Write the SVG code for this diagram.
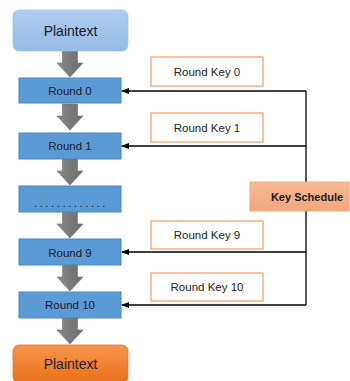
<svg xmlns="http://www.w3.org/2000/svg" width="350" height="381" viewBox="0 0 350 381">
  <defs>
    <linearGradient id="gBlueLight" x1="0" y1="0" x2="0" y2="1">
      <stop offset="0" stop-color="#b0cdee"/>
      <stop offset="1" stop-color="#95bae6"/>
    </linearGradient>
    <linearGradient id="gOrange" x1="0" y1="0" x2="0" y2="1">
      <stop offset="0" stop-color="#f7964a"/>
      <stop offset="1" stop-color="#e9701c"/>
    </linearGradient>
    <linearGradient id="gSalmon" x1="0" y1="0" x2="0" y2="1">
      <stop offset="0" stop-color="#f6b894"/>
      <stop offset="1" stop-color="#f3a77c"/>
    </linearGradient>
    <linearGradient id="gGray" x1="0" y1="0" x2="1" y2="0">
      <stop offset="0" stop-color="#8a8a8a"/>
      <stop offset="0.5" stop-color="#7a7a7a"/>
      <stop offset="1" stop-color="#6c6c6c"/>
    </linearGradient>
    <marker id="arrowHead" markerWidth="8" markerHeight="6" refX="7" refY="3" orient="auto" markerUnits="userSpaceOnUse">
      <path d="M0,0 L8,3 L0,6 Z" fill="#000"/>
    </marker>
    <!-- thick gray down-arrow between stages -->
    <path id="downArrow" d="M-7.5,0 H7.5 V12 H13 L0,26 L-13,12 H-7.5 Z" fill="url(#gGray)" stroke="#707070" stroke-width="0.6"/>
  </defs>
  <style>
    .round { fill: #5b9bd5; stroke: #4b86bd; stroke-width: 1; }
    .rtext { font-family: "Liberation Sans", Arial, sans-serif; font-size: 11.5px; fill: #1a1a2a; text-anchor: middle; }
    .key { fill: #ffffff; stroke: #f4a46c; stroke-width: 1.3; }
    .ktext { font-family: "Liberation Sans", Arial, sans-serif; font-size: 11.5px; fill: #222; text-anchor: middle; }
    .ptext { font-family: "Liberation Sans", Arial, sans-serif; font-size: 14px; fill: #1a1a1a; text-anchor: middle; }
    .link { fill: none; stroke: #000; stroke-width: 1.3; }
  </style>

  <!-- flow arrows -->
  <g id="flow-arrows">
    <use href="#downArrow" x="70" y="51"/>
    <use href="#downArrow" x="70" y="104"/>
    <use href="#downArrow" x="70" y="159"/>
    <use href="#downArrow" x="70" y="212"/>
    <use href="#downArrow" x="70" y="265"/>
    <use href="#downArrow" x="70" y="318"/>
  </g>

  <!-- key schedule connectors -->
  <g id="connectors">
    <path class="link" d="M306,91 V305"/>
    <path class="link" d="M306,91 H122" marker-end="url(#arrowHead)"/>
    <path class="link" d="M306,146 H122" marker-end="url(#arrowHead)"/>
    <path class="link" d="M306,252 H122" marker-end="url(#arrowHead)"/>
    <path class="link" d="M306,305 H122" marker-end="url(#arrowHead)"/>
  </g>

  <g id="plaintext-in">
    <rect x="13" y="10" width="115" height="41" rx="6" fill="url(#gBlueLight)" stroke="#9dbfe6" stroke-width="0.8"/>
    <text class="ptext" x="70.5" y="35.5">Plaintext</text>
  </g>

  <g id="round0">
    <rect class="round" x="19" y="78" width="102" height="25"/>
    <text class="rtext" x="70" y="94.5">Round 0</text>
  </g>
  <g id="round1">
    <rect class="round" x="19" y="133" width="102" height="26"/>
    <text class="rtext" x="70" y="150">Round 1</text>
  </g>
  <g id="round-dots">
    <rect class="round" x="19" y="186" width="102" height="26"/>
    <text class="rtext" x="71" y="207" letter-spacing="2.5">.............</text>
  </g>
  <g id="round9">
    <rect class="round" x="19" y="239" width="102" height="26"/>
    <text class="rtext" x="70" y="256.5">Round 9</text>
  </g>
  <g id="round10">
    <rect class="round" x="19" y="292" width="102" height="26"/>
    <text class="rtext" x="70" y="309">Round 10</text>
  </g>

  <g id="plaintext-out">
    <rect x="13" y="345" width="115" height="38" rx="6" fill="url(#gOrange)" stroke="#e8742a" stroke-width="0.8"/>
    <text class="ptext" x="70.5" y="369">Plaintext</text>
  </g>

  <g id="key0">
    <rect class="key" x="151" y="57" width="112" height="29"/>
    <text class="ktext" x="207" y="75.5">Round Key 0</text>
  </g>
  <g id="key1">
    <rect class="key" x="151" y="113" width="112" height="29"/>
    <text class="ktext" x="207" y="131.5">Round Key 1</text>
  </g>
  <g id="key9">
    <rect class="key" x="151" y="221" width="112" height="28"/>
    <text class="ktext" x="207" y="239">Round Key 9</text>
  </g>
  <g id="key10">
    <rect class="key" x="151" y="273" width="112" height="28"/>
    <text class="ktext" x="207" y="291">Round Key 10</text>
  </g>

  <g id="key-schedule">
    <rect x="250" y="182" width="99" height="29" fill="url(#gSalmon)" stroke="#f0a070" stroke-width="0.8"/>
    <text x="307" y="201" font-family="Liberation Sans, Arial, sans-serif" font-size="11px" font-weight="bold" fill="#1a1a1a" text-anchor="middle">Key Schedule</text>
  </g>
</svg>
